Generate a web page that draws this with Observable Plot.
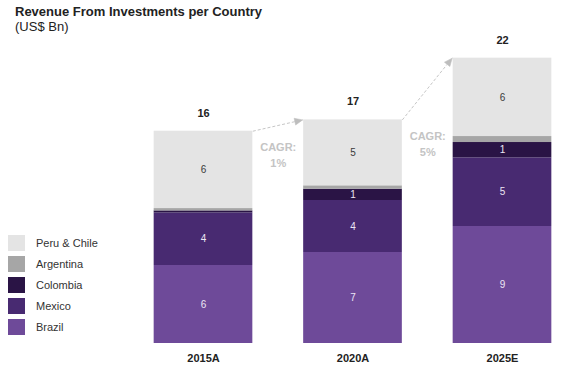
<!DOCTYPE html>
<html><head><meta charset="utf-8">
<script src="https://cdn.jsdelivr.net/npm/d3@7"></script>
<script src="https://cdn.jsdelivr.net/npm/@observablehq/plot@0.6"></script>
<style>
body{margin:0;background:#fff;font-family:"Liberation Sans",Arial,sans-serif;}
#wrap{position:relative;width:566px;height:368px;overflow:hidden;background:#fff;}
#chart{position:absolute;left:0;top:0;}
#title{position:absolute;left:15px;top:5px;font-size:13px;line-height:13px;font-weight:bold;color:#222;white-space:nowrap;}
#subtitle{position:absolute;left:15px;top:20px;font-size:13px;line-height:13px;color:#222;white-space:nowrap;}
#legend{position:absolute;left:8px;top:235px;}
.row{display:flex;align-items:center;height:16px;margin-bottom:5px;}
.sw{width:17px;height:16px;margin-right:11px;flex:none;}
.lab{font-size:11px;color:#333;}
</style></head>
<body>
<div id="wrap">
  <div id="chart"></div>
  <div id="title">Revenue From Investments per Country</div>
  <div id="subtitle">(US$ Bn)</div>
  <div id="legend"></div>
</div>
<script>
// ---- data ----
const years = ["2015A", "2020A", "2025E"];
const countries = ["Brazil", "Mexico", "Colombia", "Argentina", "Peru & Chile"];
const brazil    = [6.0, 7.0, 9.0];
const mexico    = [4.05, 4.0, 5.28];
const colombia  = [0.15, 0.87, 1.18];
const argentina = [0.18, 0.26, 0.46];
const peruChile = [5.95, 5.07, 6.03];
const totals = ["16", "17", "22"];
const cagrFrom = [0, 1];
const cagrLabels = ["1%", "5%"];
const colors = ["#6e4a99", "#482a71", "#2a1445", "#a6a6a6", "#e4e4e4"];

const series = [brazil, mexico, colombia, argentina, peruChile];
const font = '"Liberation Sans", Arial, sans-serif';
const W = 566, H = 368, ML = 203, MR = 64, MT = 57, MB = 25;
const half = 0.33;

// stacked table
const rows = [];
years.forEach((yr, i) => {
  let acc = 0;
  countries.forEach((c, k) => {
    const v = series[k][i];
    rows.push({i, year: yr, country: c, value: v, y1: acc, y2: acc + v});
    acc += v;
  });
});
const tops = years.map((_, i) => d3.sum(series, s => s[i]));

const common = {
  width: W, height: H,
  marginLeft: ML, marginRight: MR, marginTop: MT, marginBottom: MB,
  x: {domain: [0, 2], axis: null},
  y: {domain: [0, 22], axis: null},
  color: {domain: countries, range: colors},
  style: {fontFamily: font, background: "transparent"}
};
const bars = Plot.rectY(rows, {
  x1: d => d.i - half, x2: d => d.i + half,
  y1: "y1", y2: "y2", fill: "country"
});

// pre-pass to get scales for arrow heads
const pre = Plot.plot({...common, marks: [bars]});
const sx = pre.scale("x"), sy = pre.scale("y");

const arrows = cagrFrom.map((f, j) => ({from: f, to: f + 1, label: cagrLabels[j]}));
const shafts = [], tris = [];
arrows.forEach((a, j) => {
  const px1 = sx.apply(a.from + half), py1 = sy.apply(tops[a.from]);
  const px2 = sx.apply(a.to - half) - 1, py2 = sy.apply(tops[a.to]);
  const dx = px2 - px1, dy = py2 - py1, L = Math.hypot(dx, dy);
  const ux = dx / L, uy = dy / L, nx = -uy, ny = ux;
  const hl = 8, hw = 3.5;
  const bx = px2 - ux * hl, by = py2 - uy * hl;
  shafts.push({x1: a.from + half, y1: tops[a.from], x2: sx.invert(bx), y2: sy.invert(by)});
  const pts = [[px2, py2], [bx + nx * hw, by + ny * hw], [bx - nx * hw, by - ny * hw], [px2, py2]];
  pts.forEach(p => tris.push({id: j, x: sx.invert(p[0]), y: sy.invert(p[1])}));
});

const labelled = rows.filter(r => Math.round(r.value) >= 1);

const chart = Plot.plot({
  ...common,
  marks: [
    bars,
    Plot.text(labelled.filter(r => r.country !== "Peru & Chile"), {
      x: "i", y: d => (d.y1 + d.y2) / 2, text: d => String(Math.round(d.value)),
      fill: "#ece6f4", fontSize: 10
    }),
    Plot.text(labelled.filter(r => r.country === "Peru & Chile"), {
      x: "i", y: d => (d.y1 + d.y2) / 2, text: d => String(Math.round(d.value)),
      fill: "#3a3a3a", fontSize: 10
    }),
    Plot.text(years, {
      x: (d, i) => i, y: (d, i) => tops[i], text: (d, i) => totals[i],
      dy: -18, fontWeight: "bold", fontSize: 11, fill: "#222"
    }),
    Plot.text(years, {
      x: (d, i) => i, y: () => 0, text: d => d,
      dy: 15, fontWeight: "bold", fontSize: 11, fill: "#222"
    }),
    Plot.link(shafts, {
      x1: "x1", y1: "y1", x2: "x2", y2: "y2",
      stroke: "#c6c6c6", strokeWidth: 1, strokeDasharray: "3,2"
    }),
    Plot.line(tris, {x: "x", y: "y", z: "id", fill: "#bdbdbd", stroke: "#bdbdbd", strokeWidth: 0.5}),
    Plot.text(arrows, {
      x: d => (d.from + d.to) / 2, y: d => tops[d.from],
      text: d => "CAGR:\n" + d.label, dy: 9, lineAnchor: "top", lineHeight: 1.43,
      fontWeight: "bold", fontSize: 11, fill: "#c4c4c4"
    })
  ]
});
document.getElementById("chart").appendChild(chart);

// legend (top-to-bottom: reverse stacking order)
const leg = document.getElementById("legend");
countries.slice().reverse().forEach(c => {
  const row = document.createElement("div");
  row.className = "row";
  const sw = document.createElement("div");
  sw.className = "sw";
  sw.style.background = colors[countries.indexOf(c)];
  const lab = document.createElement("div");
  lab.className = "lab";
  lab.textContent = c;
  row.appendChild(sw); row.appendChild(lab);
  leg.appendChild(row);
});
</script>
</body></html>
